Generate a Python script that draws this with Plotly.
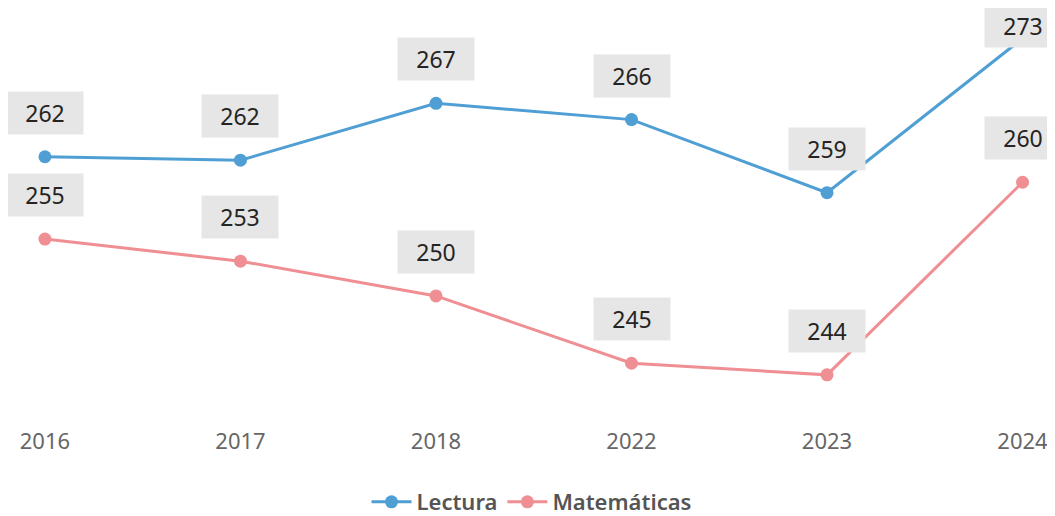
import plotly.graph_objects as go

years = ["2016", "2017", "2018", "2022", "2023", "2024"]
lectura = [262.4, 262.1, 267.0, 265.6, 259.3, 272.6]
matematicas = [255.3, 253.4, 250.4, 244.6, 243.6, 260.2]

blue = "#4f9fd4"
pink = "#ef8f93"
font = "Noto Sans"

fig = go.Figure()
fig.add_trace(go.Scatter(x=years, y=lectura, name="Lectura", mode="lines+markers",
                         line=dict(color=blue, width=3), marker=dict(size=13, color=blue)))
fig.add_trace(go.Scatter(x=years, y=matematicas, name="Matemáticas", mode="lines+markers",
                         line=dict(color=pink, width=3), marker=dict(size=13, color=pink)))

# gray label boxes above points (x as category index)
for serie in (lectura, matematicas):
    for i, v in enumerate(serie):
        shift = 44
        if serie is lectura and i == len(years) - 1:
            shift = 12  # pushed down at top edge
        fig.add_annotation(x=i, y=v, xref="x", yref="y", text=f"{v:.0f}",
                           showarrow=False, yshift=shift,
                           bgcolor="#e6e6e6", width=70, height=36, borderpad=3,
                           font=dict(family=font, size=23, color="#252423"))

fig.update_layout(
    width=1047, height=516,
    margin=dict(l=0, r=0, t=0, b=114),
    paper_bgcolor="white", plot_bgcolor="white",
    showlegend=True,
    legend=dict(orientation="h", x=0.5, xanchor="center", y=-0.229, yanchor="middle",
                font=dict(family=font, size=22, color="#555555", weight=600), itemwidth=40),
    xaxis=dict(type="category", range=[-0.189, 5.166], showgrid=False, showline=False,
               zeroline=False, ticks="", ticklabelstandoff=16,
               tickfont=dict(family=font, size=22, color="#666666")),
    yaxis=dict(visible=False, range=[240.57, 275.22]),
)

fig.write_html("out.html")
